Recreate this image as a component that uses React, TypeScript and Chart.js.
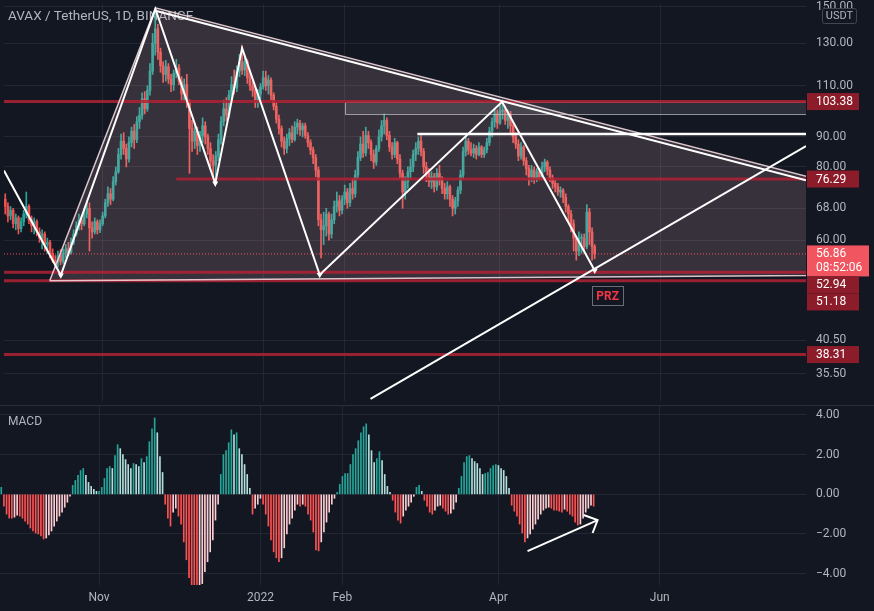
import React, { useEffect, useRef } from 'react';
import { Chart, registerables } from 'chart.js';

Chart.register(...registerables);

// ---------- layout / style constants ----------
const W = 874;
const TOP_H = 405;
const BOT_H = 206;
const AXIS_W = 68;
const BG = '#131722';
const GRID = 'rgba(42,46,57,0.75)';
const TICK = '#b2b5be';
const FONT = 'Roboto, "Noto Sans", sans-serif';
const UP = '#26a69a';
const DOWN = '#ef5350';

// ---------- data ----------
// day index relative to 2021-11-01 (Nov 1 = 0)
const firstDay = -37;
const firstOpen = 70.5;

const closes = [
  68.5, 66.0, 67.5, 64.0, 65.5, 62.8, 64.5, 66.5, 68.5, 65.0,
  63.5, 64.5, 62.0, 60.5, 61.5, 59.0, 59.5, 57.0, 55.5, 55.0,
  56.5, 55.2, 57.0, 58.0, 57.2, 59.5, 61.5, 63.5, 65.0, 64.0,
  66.5, 68.0, 63.0, 62.0, 64.5, 62.5, 64.0, 66.0, 69.5, 72.0,
  70.5, 75.5, 78.5, 84.0, 88.5, 86.0, 82.5, 88.0, 92.0, 89.0,
  95.5, 98.0, 104.5, 100.5, 108.0, 116.5, 130.0, 137.5, 125.5, 119.0,
  115.0, 118.5, 113.0, 110.5, 115.5, 118.0, 112.0, 106.5, 110.5, 104.0,
  93.0, 88.5, 92.0, 87.0, 90.5, 94.0, 90.0, 86.0, 82.0, 80.5,
  83.5, 89.0, 95.5, 100.5, 98.0, 106.0, 110.5, 109.0, 116.5, 120.5,
  117.0, 121.0, 113.5, 110.0, 108.0, 103.0, 106.5, 109.5, 113.5, 110.0,
  112.5, 106.0, 101.5, 96.5, 93.0, 88.5, 86.0, 89.5, 91.5, 89.0,
  93.5, 95.0, 92.5, 94.0, 90.5, 88.0, 85.5, 83.0, 79.0, 65.0,
  62.5, 63.5, 66.5, 61.5, 65.0, 68.5, 70.0, 67.5, 70.5, 72.5,
  69.5, 73.5, 72.0, 77.5, 83.0, 87.5, 84.5, 90.5, 88.0, 84.0,
  81.5, 86.0, 90.0, 94.0, 96.0, 90.5, 86.5, 84.0, 88.0, 82.5,
  78.0, 72.5, 75.5, 78.5, 80.0, 84.0, 86.0, 88.5, 85.0, 80.0,
  78.0, 75.5, 77.0, 74.0, 78.0, 76.0, 73.5, 72.0, 74.0, 70.5,
  68.0, 70.0, 73.0, 77.5, 85.0, 88.5, 85.5, 84.5, 86.0, 84.0,
  86.5, 84.0, 85.5, 88.0, 92.0, 95.5, 98.5, 95.0, 99.5, 100.0,
  96.0, 98.5, 94.0, 90.0, 87.5, 83.5, 86.5, 82.0, 79.5, 77.0,
  79.0, 76.5, 78.5, 77.0, 80.0, 81.5, 79.0, 76.5, 75.0, 74.0,
  72.5, 73.0, 71.0, 68.5, 66.5, 64.0, 60.5, 57.5, 60.5, 60.5,
  58.5, 67.0, 62.0, 58.5, 56.86,
];

const highs = [
  72, 69.5, 68.5, 68, 66.5, 66, 65.5, 67.5, 72.5, 69,
  66, 65.5, 65, 63, 62.5, 62, 60.5, 60, 58, 56.5,
  57.5, 57.8, 58, 59, 59.5, 60.5, 62.5, 64.5, 66.5, 66,
  68, 70, 69.5, 64.5, 65.5, 65, 65, 67, 70.5, 74,
  73.5, 77, 80, 86, 91, 91.5, 87.5, 90, 93.5, 94.5,
  97.5, 101, 107, 107.5, 110, 120, 135, 147.5, 140, 127.5,
  121, 121.5, 120, 115, 117, 122, 119.5, 114, 113, 115,
  104, 96, 95, 93.5, 92, 97, 95.5, 91, 88, 84,
  85, 91, 97.5, 104, 105, 108, 114, 117, 119, 124.5,
  128.5, 123, 122, 116, 112, 109.5, 108.5, 111, 116.5, 116.5,
  114.5, 113.5, 107, 103, 98, 94, 90, 91, 93, 94,
  95.5, 96.5, 96, 95, 95, 91.5, 89, 86.5, 84, 80,
  66.5, 67, 68, 67, 66.5, 70, 72.5, 71.5, 71.5, 74.5,
  73.5, 75, 76.5, 79, 85, 90, 92, 93.5, 92, 89,
  85.5, 87, 92.5, 96, 98.5, 97, 92, 88, 89.5, 88.5,
  84, 79, 77, 80, 82.5, 85.5, 88, 90, 90.5, 86,
  81.5, 79.5, 78.5, 78, 79.5, 80.5, 77, 75, 75.5, 74.5,
  71.5, 71, 74, 79, 86.5, 90, 89.5, 88, 87.5, 87,
  88, 87, 86.5, 89.5, 93.5, 97, 100.5, 100, 102, 104,
  101.5, 100, 99.5, 95, 91.5, 89, 88, 87, 83, 80.5,
  80.5, 80, 79.5, 79.5, 81.5, 82.5, 82, 80, 77.5, 76,
  75, 74, 73.5, 72, 69, 67.5, 65, 61, 62, 61.5,
  61.5, 69, 68, 63, 59,
];

const lows = [
  66.5, 64.5, 65, 63, 62.5, 61.5, 62, 63.5, 65.5, 64,
  62, 61.5, 61, 59.5, 58, 57.5, 57, 56, 55, 53.8,
  54, 54.5, 54.8, 56, 56.5, 56.8, 59, 61, 62.5, 62.5,
  63.5, 65.5, 57.5, 60.5, 61.5, 61.5, 61.8, 63.5, 65.5, 68.5,
  69, 70, 74.5, 78, 82.5, 84, 80, 81.5, 86.5, 86,
  88, 93, 96.5, 98.5, 99.5, 106, 115, 124, 122, 116,
  111.5, 112, 111, 107.5, 108, 113.5, 110.5, 104, 103.5, 101,
  78, 85, 86, 84, 85, 88, 87.5, 84, 80, 77,
  75.5, 82, 87.5, 94, 96, 97, 104, 106.5, 107.5, 114,
  115, 114.5, 111, 108, 105.5, 101, 101, 104.5, 108.5, 108,
  106.5, 104, 100, 95, 91, 86.5, 84, 84.5, 87, 88,
  88.5, 91, 90.5, 90, 89.5, 86.5, 84, 81, 77, 63.5,
  56, 59, 61, 60, 60.5, 64, 67, 66, 66.5, 69,
  68, 68.5, 70.5, 71, 76.5, 82, 83, 83.5, 86, 82,
  79.5, 80.5, 85, 88.5, 91, 89, 85, 82.5, 83, 81,
  76.5, 68, 70.5, 73.5, 76.5, 78.5, 82, 84, 83.5, 78,
  75.5, 74, 73.5, 72.5, 73, 74.5, 72, 70.5, 70.5, 68.5,
  66, 66.5, 68.5, 72, 76.5, 83.5, 84, 83.5, 83, 82.5,
  83.5, 83, 83, 84.5, 87, 90, 93.5, 93, 94.5, 96.5,
  94.5, 93, 91.5, 88, 86, 82, 82.5, 80.5, 77.5, 74.5,
  75.5, 75, 75.5, 76, 76.5, 78.5, 77.5, 75.5, 73.5, 72.5,
  71.5, 71, 69.5, 67, 64.5, 62, 57.5, 55.5, 56.5, 57,
  57.5, 58, 59, 55.5, 55.8,
];

const macdHist = [
  0.35, -0.6, -1.0, -1.2, -1.2, -1.15, -1.05, -1.1, -1.2, -1.35,
  -1.5, -1.7, -1.85, -1.95, -2.0, -2.1, -2.25, -2.2, -2.05, -1.85,
  -1.6, -1.35, -1.1, -0.9, -0.65, -0.4, -0.1, 0.45, 0.7, 0.95,
  1.2, 1.3, 0.95, 0.6, 0.4, 0.25, 0.15, 0.15, 0.35, 0.8,
  1.3, 1.4, 1.3, 1.95, 2.5, 2.3, 2.0, 1.75, 1.5, 1.3,
  1.55, 1.5, 1.4, 1.8, 1.6, 1.9, 2.65, 3.3, 3.85, 3.1,
  1.9, 1.1, -0.5, -1.2, -1.6, -0.9, -0.7, -1.1, -1.5, -2.4,
  -3.3, -4.2, -4.6, -4.8, -4.8, -4.7, -4.5, -3.9, -3.4, -2.9,
  -2.3, -1.3, -0.5, 1.0, 2.0, 2.2, 2.6, 3.25, 3.0, 3.1,
  2.3, 2.0, 1.5, 1.0, 0.3, -1.0, -0.7, -0.5, -0.2, -0.5,
  -1.0, -1.6, -2.3, -2.9, -3.2, -3.4, -3.2, -2.7, -2.0, -1.5,
  -1.2, -0.8, -0.5, -0.6, -0.5, -0.6, -1.0, -1.3, -1.9, -2.8,
  -2.85, -2.4, -1.9, -1.4, -0.9, -0.5, -0.2, 0.1, 0.5, 0.9,
  1.05, 1.05, 1.5, 2.0, 2.3, 2.7, 3.1, 3.4, 3.55, 3.0,
  2.2, 1.6, 1.8, 2.15, 1.7, 1.0, 0.4, 0.1, -0.3, -0.9,
  -1.3, -1.45, -1.1, -0.8, -0.6, -0.4, -0.1, 0.35, 0.45, 0.15,
  -0.3, -0.6, -0.9, -1.0, -0.8, -0.6, -0.55, -0.7, -0.85, -1.0,
  -0.95, -0.75, -0.4, 0.3, 0.9, 1.6, 1.9, 1.95, 1.8, 1.65,
  1.55, 1.3, 1.0, 1.05, 1.1, 1.3, 1.45, 1.5, 1.45, 1.3,
  1.2, 0.9, 0.3, -0.55, -0.85, -1.1, -1.5, -1.95, -2.4, -2.2,
  -2.0, -1.75, -1.5, -1.25, -1.0, -0.8, -0.7, -0.65, -0.7, -0.8,
  -0.8, -0.85, -0.9, -0.75, -0.85, -1.0, -1.1, -1.4, -1.55, -1.5,
  -1.2, -0.9, -0.7, -0.55, -0.6,
];

// axes
const X_MIN = -37.48;
const X_MAX = 267.3;
const PRICE_MIN = 31.93;
const PRICE_MAX = 151.6;
const MACD_MIN = -4.57;
const MACD_MAX = 4.5;
const priceTicks = [150, 130, 110, 90, 80, 68, 60, 40.5, 35.5];
const macdTicks = [4, 2, 0, -2, -4];
const timeTickDays = [0, 61, 92, 151, 212];
const timeTickLabels = ['Nov', '2022', 'Feb', 'Apr', 'Jun'];

// drawings (day index, price)
const zigzagDays = [-37.5, -15.9, 20.06, 42.8, 53.0, 82.5, 151.8, 187.0];
const zigzagPrices = [78.9, 52.3, 148.7, 75.0, 127.5, 52.4, 103.3, 53.3];
const zigzagMarks = [0, 1, 0, 1, 0, 1, 0, 1];
const triangleDays = [-20.1, 20.06, 408.9];
const trianglePrices = [51.2, 149.3, 52.8];
const trendDays = [20.06, 267.3];
const trendPrices = [147.6, 75.9];
const rayDays = [101.8, 267.3];
const rayPrices = [32.2, 86.8];
const levelPrices = [103.38, 76.29, 52.94, 51.18, 38.31];
const levelStartDays = [X_MIN, 28.0, X_MIN, X_MIN, X_MIN];
const resistancePrice = 91;
const resistanceStartDay = 119.6;
const boxDays = [92.0, X_MAX];
const boxPrices = [98.5, 103.4];
const lastPrice = 56.86;
const countdown = '08:52:06';
const przDay = 191.9;
const przPrice = 48.3;
const macdArrowDays = [162.0, 188.5];
const macdArrowValues = [-2.86, -1.3];
const macdHeadDays = [183.2, 188.5, 186.6];
const macdHeadValues = [-1.04, -1.3, -1.95];

// ---------- derived ----------
const days = closes.map((_, i) => firstDay + i);
const opens = closes.map((_, i) => (i === 0 ? firstOpen : closes[i - 1]));
const candleColors = closes.map((c, i) => (c >= opens[i] ? UP : DOWN));
const macdColors = macdHist.map((v, i) => {
  const prev = i > 0 ? macdHist[i - 1] : v;
  if (v >= 0) return v >= prev ? '#26a69a' : '#b2dfdb';
  return v <= prev ? '#ff5252' : '#ffcdd2';
});

function lineDs(ds: number[], vs: number[], color: string, width: number, extra: any = {}) {
  return {
    type: 'line' as const,
    data: ds.map((d, i) => ({ x: d, y: vs[i] })),
    borderColor: color,
    backgroundColor: color,
    borderWidth: width,
    pointRadius: 0,
    tension: 0,
    fill: false,
    order: 5,
    ...extra,
  };
}

const BODY_INDEX = 1;

const topPlugin = {
  id: 'topDecor',
  beforeDatasetsDraw(chart: any) {
    const { ctx } = chart;
    ctx.save();
    ctx.fillStyle = TICK;
    ctx.font = `13.5px ${FONT}`;
    ctx.textBaseline = 'middle';
    ctx.textAlign = 'left';
    ctx.fillText('AVAX / TetherUS, 1D, BINANCE', 8, 17);
    ctx.restore();
  },
  afterDatasetDraw(chart: any, args: any) {
    if (args.index !== BODY_INDEX) return;
    const { ctx, chartArea, scales } = chart;
    const x = scales.x;
    const y = scales.y;
    ctx.save();
    ctx.beginPath();
    ctx.rect(chartArea.left, chartArea.top, chartArea.right - chartArea.left, chartArea.bottom - chartArea.top);
    ctx.clip();
    // triangle fill
    ctx.beginPath();
    triangleDays.forEach((d, i) => {
      const px = x.getPixelForValue(d);
      const py = y.getPixelForValue(trianglePrices[i]);
      if (i === 0) ctx.moveTo(px, py);
      else ctx.lineTo(px, py);
    });
    ctx.closePath();
    ctx.fillStyle = 'rgba(219,173,178,0.18)';
    ctx.fill();
    // rectangle
    const bx0 = x.getPixelForValue(boxDays[0]);
    const bx1 = x.getPixelForValue(boxDays[1]);
    const by0 = y.getPixelForValue(boxPrices[1]);
    const by1 = y.getPixelForValue(boxPrices[0]);
    ctx.fillStyle = 'rgba(160,160,170,0.18)';
    ctx.fillRect(bx0, by0, bx1 - bx0, by1 - by0);
    ctx.strokeStyle = 'rgba(200,200,205,0.7)';
    ctx.lineWidth = 1;
    ctx.strokeRect(Math.round(bx0) + 0.5, Math.round(by0) + 0.5, bx1 - bx0 + 5, Math.round(by1 - by0));
    ctx.restore();
  },
  afterDatasetsDraw(chart: any) {
    const { ctx, scales } = chart;
    const cx = scales.x.getPixelForValue(przDay);
    const cy = scales.y.getPixelForValue(przPrice);
    ctx.save();
    ctx.font = `bold 12px ${FONT}`;
    const tw = ctx.measureText('PRZ').width;
    const bw = tw + 8;
    const bh = 19;
    ctx.fillStyle = BG;
    ctx.fillRect(cx - bw / 2, cy - bh / 2, bw, bh);
    ctx.strokeStyle = '#6a6d78';
    ctx.lineWidth = 1;
    ctx.strokeRect(Math.round(cx - bw / 2) + 0.5, Math.round(cy - bh / 2) + 0.5, Math.round(bw), bh);
    ctx.fillStyle = '#f23645';
    ctx.textAlign = 'center';
    ctx.textBaseline = 'middle';
    ctx.fillText('PRZ', cx, cy + 1);
    ctx.restore();
  },
  afterDraw(chart: any) {
    const { ctx, chartArea, scales } = chart;
    const y = scales.y;
    const left = chartArea.right + 1;
    type Item = { price: number; lines: string[]; bg: string; h: number; w: number; top: number };
    const items: Item[] = [
      ...levelPrices.map((p) => ({ price: p, lines: [p.toFixed(2)], bg: '#8c1c2a', h: 17, w: 52, top: 0 })),
      { price: lastPrice, lines: [lastPrice.toFixed(2), countdown], bg: '#f05560', h: 31, w: 62, top: 0 },
    ];
    items.forEach((it) => (it.top = y.getPixelForValue(it.price) - 8.5));
    items.sort((a, b) => a.top - b.top);
    let prevBottom = -Infinity;
    ctx.save();
    ctx.font = `12px ${FONT}`;
    ctx.textBaseline = 'middle';
    ctx.textAlign = 'left';
    for (const it of items) {
      if (it.top < prevBottom) it.top = prevBottom;
      prevBottom = it.top + it.h;
      ctx.fillStyle = it.bg;
      ctx.fillRect(left, it.top, it.w, it.h);
      ctx.fillStyle = '#ffffff';
      it.lines.forEach((ln, k) => ctx.fillText(ln, left + 9, it.top + 9 + k * 14));
    }
    // USDT badge
    ctx.strokeStyle = '#434651';
    ctx.lineWidth = 1;
    ctx.beginPath();
    const bx = 822.5, byy = 8.5, bw = 34, bh = 15;
    ctx.moveTo(bx + 2, byy);
    ctx.lineTo(bx + bw - 2, byy);
    ctx.quadraticCurveTo(bx + bw, byy, bx + bw, byy + 2);
    ctx.lineTo(bx + bw, byy + bh - 2);
    ctx.quadraticCurveTo(bx + bw, byy + bh, bx + bw - 2, byy + bh);
    ctx.lineTo(bx + 2, byy + bh);
    ctx.quadraticCurveTo(bx, byy + bh, bx, byy + bh - 2);
    ctx.lineTo(bx, byy + 2);
    ctx.quadraticCurveTo(bx, byy, bx + 2, byy);
    ctx.fillStyle = BG;
    ctx.fill();
    ctx.stroke();
    ctx.fillStyle = TICK;
    ctx.font = `11px ${FONT}`;
    ctx.textAlign = 'center';
    ctx.fillText('USDT', bx + bw / 2, byy + bh / 2 + 0.5);
    ctx.restore();
  },
};

const botPlugin = {
  id: 'botDecor',
  beforeDatasetsDraw(chart: any) {
    const { ctx } = chart;
    ctx.save();
    ctx.fillStyle = TICK;
    ctx.font = `12px ${FONT}`;
    ctx.textBaseline = 'middle';
    ctx.textAlign = 'left';
    ctx.fillText('MACD', 8, 17);
    ctx.restore();
  },
  afterDraw(chart: any) {
    const { ctx } = chart;
    ctx.save();
    ctx.fillStyle = '#2a2e39';
    ctx.fillRect(0, 0, W, 1);
    ctx.restore();
  },
};

export default function App() {
  const topRef = useRef<HTMLCanvasElement>(null);
  const botRef = useRef<HTMLCanvasElement>(null);

  useEffect(() => {
    Chart.defaults.font.family = FONT;
    const xCommon = {
      type: 'linear' as const,
      min: X_MIN,
      max: X_MAX,
      bounds: 'data' as const,
      offset: false,
      grid: { color: GRID, drawTicks: false, offset: false },
      border: { display: false },
      afterBuildTicks: (s: any) => {
        s.ticks = timeTickDays.map((v) => ({ value: v }));
      },
    };

    const levelDatasets = levelPrices.map((p, i) =>
      lineDs([levelStartDays[i], X_MAX], [p, p], 'rgba(178,34,52,0.85)', 3, { order: 8 })
    );

    const top = new Chart(topRef.current as HTMLCanvasElement, {
      type: 'bar',
      data: {
        datasets: [
          {
            type: 'bar',
            data: days.map((d, i) => ({ x: d, y: [lows[i], highs[i]] })),
            backgroundColor: candleColors,
            barThickness: 1,
            grouped: false,
            order: 20,
          } as any,
          {
            type: 'bar',
            data: days.map((d, i) => ({ x: d, y: [opens[i], closes[i]] })),
            backgroundColor: candleColors,
            barThickness: 2,
            minBarLength: 1,
            grouped: false,
            order: 19,
          } as any,
          lineDs([X_MIN, X_MAX], [lastPrice, lastPrice], '#f7525f', 1, { borderDash: [1, 2], order: 9 }),
          ...levelDatasets,
          lineDs([resistanceStartDay, X_MAX], [resistancePrice, resistancePrice], '#ffffff', 2.5, { order: 4 }),
          lineDs(triangleDays.concat([triangleDays[0]]), trianglePrices.concat([trianglePrices[0]]), 'rgba(240,215,222,0.9)', 1.5, { order: 6 }),
          lineDs(trendDays, trendPrices, '#ffffff', 2, { order: 3 }),
          lineDs(zigzagDays, zigzagPrices, '#ffffff', 2, {
            order: 2,
            pointRadius: zigzagMarks.map((m) => (m ? 3.5 : 0)),
            pointStyle: 'triangle',
            rotation: 180,
            pointBackgroundColor: '#ffffff',
            pointBorderWidth: 0,
          }),
          lineDs(rayDays, rayPrices, '#ffffff', 2, { order: 1 }),
        ] as any,
      },
      options: {
        responsive: false,
        animation: false,
        events: [],
        layout: { padding: 0 },
        plugins: { legend: { display: false }, tooltip: { enabled: false } },
        scales: {
          x: {
            ...xCommon,
            ticks: { display: false },
            afterFit: (s: any) => {
              s.height = 0;
              s.paddingLeft = 0;
              s.paddingRight = 0;
            },
          },
          y: {
            type: 'logarithmic',
            position: 'right',
            min: PRICE_MIN,
            max: PRICE_MAX,
            bounds: 'data',
            grid: { color: GRID, drawTicks: false },
            border: { display: false },
            ticks: {
              color: TICK,
              font: { size: 12, family: FONT },
              padding: 10,
              autoSkip: false,
              callback: (v: any) => Number(v).toFixed(2),
            },
            afterBuildTicks: (s: any) => {
              s.ticks = priceTicks.map((v) => ({ value: v }));
            },
            afterFit: (s: any) => {
              s.width = AXIS_W;
              s.paddingTop = 0;
              s.paddingBottom = 0;
            },
          },
        },
      } as any,
      plugins: [topPlugin],
    });

    const bot = new Chart(botRef.current as HTMLCanvasElement, {
      type: 'bar',
      data: {
        datasets: [
          {
            type: 'bar',
            data: days.map((d, i) => ({ x: d, y: macdHist[i] })),
            backgroundColor: macdColors,
            barThickness: 1,
            grouped: false,
            order: 10,
          } as any,
          lineDs(macdArrowDays, macdArrowValues, '#ffffff', 2, { order: 2 }),
          lineDs(macdHeadDays, macdHeadValues, '#ffffff', 2, { order: 1 }),
        ] as any,
      },
      options: {
        responsive: false,
        animation: false,
        events: [],
        layout: { padding: 0 },
        plugins: { legend: { display: false }, tooltip: { enabled: false } },
        scales: {
          x: {
            ...xCommon,
            ticks: {
              color: TICK,
              font: { size: 12, family: FONT },
              padding: 6,
              maxRotation: 0,
              autoSkip: false,
              callback: (_v: any, i: number) => timeTickLabels[i],
            },
            afterFit: (s: any) => {
              s.height = 26;
              s.paddingLeft = 0;
              s.paddingRight = 0;
            },
          },
          y: {
            type: 'linear',
            position: 'right',
            min: MACD_MIN,
            max: MACD_MAX,
            bounds: 'data',
            grid: { color: GRID, drawTicks: false },
            border: { display: false },
            ticks: {
              color: TICK,
              font: { size: 12, family: FONT },
              padding: 10,
              autoSkip: false,
              callback: (v: any) => (Number(v) < 0 ? '\u2212' + Math.abs(Number(v)).toFixed(2) : Number(v).toFixed(2)),
            },
            afterBuildTicks: (s: any) => {
              s.ticks = macdTicks.map((v) => ({ value: v }));
            },
            afterFit: (s: any) => {
              s.width = AXIS_W;
              s.paddingTop = 0;
              s.paddingBottom = 0;
            },
          },
        },
      } as any,
      plugins: [botPlugin],
    });

    return () => {
      top.destroy();
      bot.destroy();
    };
  }, []);

  return (
    <div style={{ width: W, height: TOP_H + BOT_H, background: BG, position: 'relative', overflow: 'hidden' }}>
      <style>{`html,body{margin:0;padding:0;background:${BG};}`}</style>
      <canvas ref={topRef} width={W} height={TOP_H} style={{ position: 'absolute', left: 0, top: 0, display: 'block' }} />
      <canvas ref={botRef} width={W} height={BOT_H} style={{ position: 'absolute', left: 0, top: TOP_H, display: 'block' }} />
    </div>
  );
}
